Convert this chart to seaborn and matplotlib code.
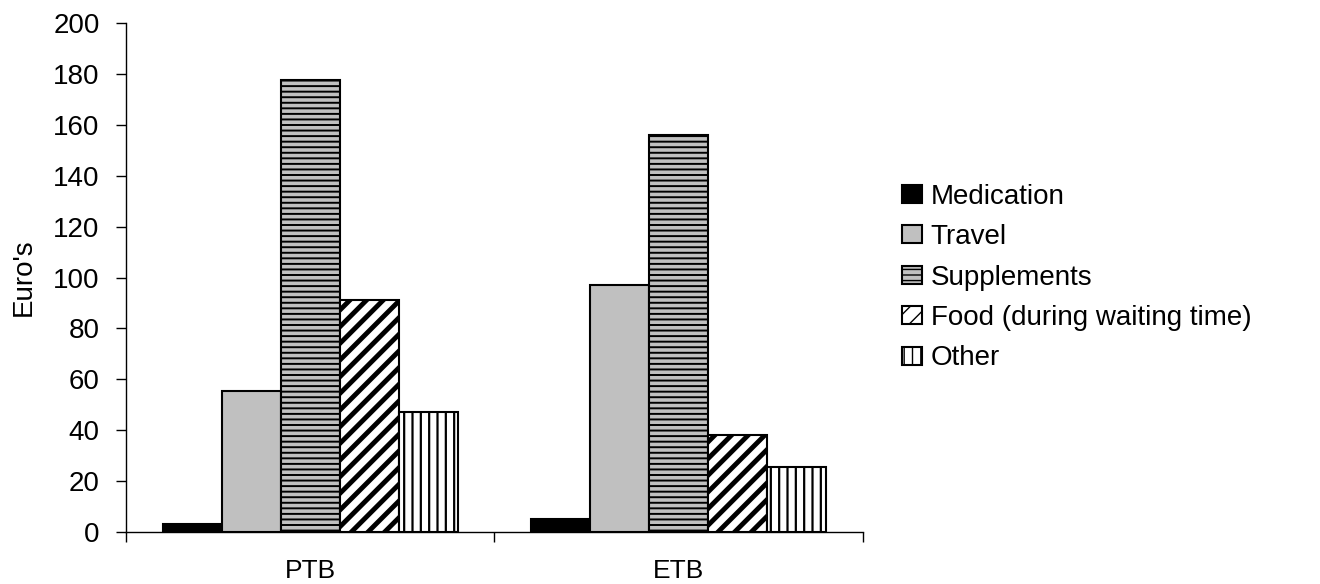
import matplotlib
matplotlib.use('Agg')
import matplotlib.pyplot as plt
import seaborn as sns
import pandas as pd

sns.set_style('white')
plt.rcParams['font.family'] = ['Liberation Sans', 'DejaVu Sans']
plt.rcParams['hatch.color'] = 'black'
plt.rcParams['text.color'] = 'black'
plt.rcParams['axes.labelcolor'] = 'black'
plt.rcParams['xtick.color'] = 'black'
plt.rcParams['ytick.color'] = 'black'

# data
groups = ['PTB', 'ETB']
categories = ['Medication', 'Travel', 'Supplements', 'Food (during waiting time)', 'Other']
ptb_costs = [3.3, 55.5, 177.5, 91, 47.3]
etb_costs = [5.3, 97, 156, 38, 25.6]

face_colors = ['black', '#c0c0c0', '#c0c0c0', 'white', 'white']
hatches = [None, None, '---', '//', '||']
hatch_widths = [1.0, 1.0, 1.4, 3.5, 1.6]

df = pd.DataFrame({
    'group': groups[0:1] * len(categories) + groups[1:2] * len(categories),
    'category': categories * 2,
    'euros': ptb_costs + etb_costs,
})

fig = plt.figure(figsize=(13.2, 5.84), dpi=100)
ax = fig.add_axes([0.0955, 0.0885, 0.558, 0.8726])

sns.barplot(data=df, x='group', y='euros', hue='category', hue_order=categories,
            order=groups, width=0.8, ax=ax, palette=['white'] * 5,
            edgecolor='black', linewidth=1.5, saturation=1)

for cont, fc, h, hw in zip(ax.containers, face_colors, hatches, hatch_widths):
    for bar in cont:
        bar.set_facecolor(fc)
        if h:
            bar.set_hatch(h)
            if hasattr(bar, 'set_hatch_linewidth'):
                bar.set_hatch_linewidth(hw)

ax.set_ylim(0, 200)
ax.set_xlim(-0.5, 1.5)
ax.set_yticks(range(0, 201, 20))
ax.set_xlabel('')
ax.set_ylabel("Euro's", fontsize=20, labelpad=12)

for s in ['top', 'right']:
    ax.spines[s].set_visible(False)
for s in ['left', 'bottom']:
    ax.spines[s].set_color('black')
    ax.spines[s].set_linewidth(1)

ax.tick_params(axis='y', direction='out', length=7, width=1, color='black',
               labelsize=20, pad=12, left=True, labelcolor='black')
ax.set_xticks([0, 1])
ax.set_xticks([-0.5, 0.5, 1.5], minor=True)
ax.tick_params(axis='x', which='major', length=0, labelsize=19, pad=19,
               labelcolor='black')
ax.tick_params(axis='x', which='minor', direction='out', length=7, width=1,
               color='black', bottom=True)

leg = ax.legend(handles=list(ax.containers), labels=categories,
                loc='center left', bbox_to_anchor=(1.054, 0.5), frameon=False,
                fontsize=20, handlelength=0.72, handleheight=0.62,
                handletextpad=0.3, labelspacing=0.52, borderaxespad=0,
                borderpad=0, labelcolor='black')

fig.savefig('out.png', dpi=100, facecolor='white')
